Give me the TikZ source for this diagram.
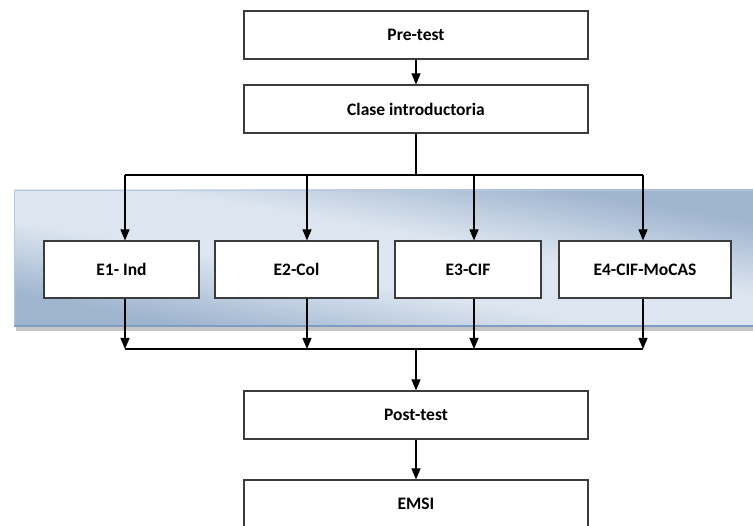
\documentclass[tikz,border=0pt]{standalone}
\usepackage{fontspec}
\setmainfont{Carlito}
\usetikzlibrary{arrows.meta}
\definecolor{paneldark}{HTML}{9FB4CF}
\definecolor{panellight}{HTML}{DDE6F0}
\definecolor{panelline}{HTML}{7F9DC4}
\definecolor{boxline}{HTML}{3C3C3C}
% diagonal glow for the group band: dark corners, light middle
\pgfdeclarehorizontalshading{panelglow}{100bp}{%
  color(0bp)=(paneldark); color(28bp)=(paneldark); color(44bp)=(panellight);
  color(56bp)=(panellight); color(72bp)=(paneldark); color(100bp)=(paneldark)}
\tikzset{
  stepbox/.style={draw=boxline, line width=1.1pt, fill=white, minimum width=#1,
    inner sep=0pt, font=\fontsize{17.5}{20}\selectfont\bfseries},
  stepbox/.default=344pt,
  link/.style={line width=1.1pt, draw=black},
  flow/.style={link, -{Triangle[width=9pt,length=11pt]}}
}
\begin{document}
\begin{tikzpicture}[x=1pt, y=-1pt]
  \useasboundingbox (0,0) rectangle (753,526);

  % shaded band behind the four groups
  \fill[gray!45] (16,327) rectangle (760,331);
  \shade[shading=panelglow, shading angle=80] (14,190) rectangle (760,327);
  \draw[draw=panelline!55, line width=0.8pt] (760,190) -- (14,190) -- (14,327);
  \draw[draw=panelline, line width=1.6pt] (14,326) -- (760,326);

  % main sequence
  \node[stepbox, minimum height=48pt] (pre)   at (416,35)  {Pre-test};
  \node[stepbox, minimum height=48pt] (clase) at (416,109) {Clase introductoria};

  % the four groups
  \node[stepbox=155pt, minimum height=57pt] (e1) at (121.5,269.5) {E1- Ind};
  \node[stepbox=163pt, minimum height=57pt] (e2) at (296.5,269.5) {E2-Col};
  \node[stepbox=146pt, minimum height=57pt] (e3) at (468,269.5)   {E3-CIF};
  \node[stepbox=172pt, minimum height=57pt] (e4) at (645,269.5)   {E4-CIF-MoCAS};

  \node[stepbox, minimum height=48pt] (post) at (416,415) {Post-test};
  \node[stepbox, minimum height=48pt] (emsi) at (416,504) {EMSI};

  % branching and merging buses
  \coordinate (split) at (416,175);
  \coordinate (ta) at (125,175);
  \coordinate (tb) at (307,175);
  \coordinate (tc) at (474,175);
  \coordinate (td) at (643,175);
  \coordinate (merge) at (416,349);
  \coordinate (ba) at (125,349);
  \coordinate (bb) at (307,349);
  \coordinate (bc) at (474,349);
  \coordinate (bd) at (643,349);

  \draw[flow] (pre) -- (clase);
  \draw[link] (clase) -- (split);
  \draw[link] (ta) -- (td);
  \draw[flow] (ta) -- (ta |- e1.north);
  \draw[flow] (tb) -- (tb |- e2.north);
  \draw[flow] (tc) -- (tc |- e3.north);
  \draw[flow] (td) -- (td |- e4.north);

  \draw[flow] (ba |- e1.south) -- (ba);
  \draw[flow] (bb |- e2.south) -- (bb);
  \draw[flow] (bc |- e3.south) -- (bc);
  \draw[flow] (bd |- e4.south) -- (bd);
  \draw[link] (ba) -- (bd);

  \draw[flow] (merge) -- (post);
  \draw[flow] (post) -- (emsi);
\end{tikzpicture}
\end{document}
